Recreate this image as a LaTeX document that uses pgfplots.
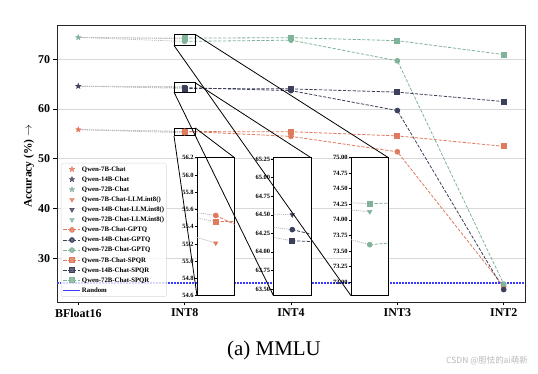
\documentclass[border=0pt]{standalone}
\usepackage{fontspec}
\setmainfont{Liberation Serif}
\newfontfamily\cjk{Noto Sans CJK SC}
\usepackage{pgfplots}
\pgfplotsset{compat=1.18}
\definecolor{corange}{HTML}{E07A5F}
\definecolor{cnavy}{HTML}{3D405B}
\definecolor{cgreen}{HTML}{81B29A}
\definecolor{cblue}{RGB}{60,60,255}
\pgfdeclareplotmark{fstar}{%
 \pgfpathmoveto{\pgfpointpolar{90}{\pgfplotmarksize}}%
 \pgfpathlineto{\pgfpointpolar{126}{0.42\pgfplotmarksize}}%
 \pgfpathlineto{\pgfpointpolar{162}{\pgfplotmarksize}}%
 \pgfpathlineto{\pgfpointpolar{198}{0.42\pgfplotmarksize}}%
 \pgfpathlineto{\pgfpointpolar{234}{\pgfplotmarksize}}%
 \pgfpathlineto{\pgfpointpolar{270}{0.42\pgfplotmarksize}}%
 \pgfpathlineto{\pgfpointpolar{306}{\pgfplotmarksize}}%
 \pgfpathlineto{\pgfpointpolar{342}{0.42\pgfplotmarksize}}%
 \pgfpathlineto{\pgfpointpolar{18}{\pgfplotmarksize}}%
 \pgfpathlineto{\pgfpointpolar{54}{0.42\pgfplotmarksize}}%
 \pgfpathclose\pgfusepathqfillstroke}
\pgfplotsset{
 gl/.style={gray!55, line width=0.7bp, dash pattern=on 1.2bp off 0.9bp, forget plot},
 ser/.style={line width=0.8bp, dash pattern=on 3.2bp off 1.6bp},
 stm/.style={only marks, mark=fstar, mark size=2.8bp},
 trm/.style={only marks, mark=triangle*, mark size=2.6bp, mark options={rotate=180}},
 cim/.style={ser, mark=*, mark size=2.4bp, mark options={solid}},
 sqm/.style={ser, mark=square*, mark size=2.5bp, mark options={solid}},
}
\newcommand{\grayl}{%
 \addplot[gl] coordinates {(0,55.86)(1,55.21)};
 \addplot[gl] coordinates {(0,55.86)(1,55.53)};
 \addplot[gl] coordinates {(0,55.86)(1,55.46)};
 \addplot[gl] coordinates {(0,64.6)(1,64.50)};
 \addplot[gl] coordinates {(0,64.6)(1,64.30)};
 \addplot[gl] coordinates {(0,64.6)(1,64.15)};
 \addplot[gl] coordinates {(0,74.4)(1,74.13)};
 \addplot[gl] coordinates {(0,74.4)(1,73.60)};
 \addplot[gl] coordinates {(0,74.4)(1,74.26)};
}
\newcommand{\datapl}{%
 \addplot[stm, corange] coordinates {(0,55.86)};
 \addplot[stm, cnavy] coordinates {(0,64.6)};
 \addplot[stm, cgreen] coordinates {(0,74.4)};
 \addplot[trm, corange] coordinates {(1,55.21)};
 \addplot[trm, cnavy] coordinates {(1,64.50)};
 \addplot[trm, cgreen] coordinates {(1,74.13)};
 \addplot[cim, corange] coordinates {(1,55.53)(2,54.5)(3,51.4)(4,24.3)};
 \addplot[cim, cnavy] coordinates {(1,64.30)(2,63.7)(3,59.7)(4,23.7)};
 \addplot[cim, cgreen] coordinates {(1,73.60)(2,73.85)(3,69.7)(4,24.8)};
 \addplot[sqm, corange] coordinates {(1,55.46)(2,55.44)(3,54.6)(4,52.5)};
 \addplot[sqm, cnavy] coordinates {(1,64.15)(2,64.05)(3,63.4)(4,61.5)};
 \addplot[sqm, cgreen] coordinates {(1,74.26)(2,74.35)(3,73.75)(4,70.95)};
}
\pgfplotsset{
 inset/.style={anchor=south west, scale only axis, width=37.5bp, height=138bp,
  xmin=0.9, xmax=1.1, xtick=\empty, axis background/.style={fill=white},
  axis line style={line width=0.9bp, black},
  ytick pos=left, tick align=outside, major tick length=2.2bp,
  tick style={black, line width=0.5bp},
  yticklabel style={font=\fontsize{6.5}{7}\selectfont\bfseries, inner sep=1bp},
  /pgf/number format/assume math mode=true,
  /pgf/number format/fixed, /pgf/number format/fixed zerofill},
}
\begin{document}
\begin{tikzpicture}
\path[use as bounding box] (0,0) rectangle (538bp,374bp);
\begin{axis}[name=main, at={(57bp,72bp)}, anchor=south west, scale only axis,
 width=468bp, height=277bp, xmin=-0.2, xmax=4.2, ymin=21.2, ymax=76.9,
 xtick={0,1,2,3,4}, xticklabels={BFloat16,INT8,INT4,INT3,INT2},
 ytick={30,40,50,60,70},
 ymajorgrids, grid style={gray!30, line width=0.8bp},
 axis line style={line width=0.8bp, black!85},
 xtick pos=lower, ytick pos=left, tick align=outside, major tick length=3.5bp,
 tick style={black, line width=0.7bp},
 tick label style={font=\fontsize{12}{14}\selectfont\bfseries},
 /pgf/number format/assume math mode=true,
 ylabel={Accuracy (\%) $\rightarrow$},
 ylabel style={font=\fontsize{11.5}{13}\selectfont\bfseries, at={(axis description cs:-0.06,0.49)}, anchor=center},
 legend style={at={(axis description cs:0.0085,0.502)}, anchor=north west,
  font=\fontsize{6.8}{8}\selectfont\bfseries, draw=gray!30, rounded corners=2bp,
  fill=white, fill opacity=0.8, text opacity=1, inner xsep=1.5bp, inner ysep=2bp,
  row sep=1.8bp, nodes={inner sep=0.7bp, text height=5.3bp, text depth=1.6bp}},
 legend cell align=left,
]
\grayl
\datapl
\addplot[draw=cblue, color=cblue, line width=1.6bp, dash pattern=on 2.2bp off 0.8bp] coordinates {(-0.2,25)(4.2,25)};
\legend{Qwen-7B-Chat,Qwen-14B-Chat,Qwen-72B-Chat,Qwen-7B-Chat-LLM.int8(),Qwen-14B-Chat-LLM.int8(),Qwen-72B-Chat-LLM.int8(),Qwen-7B-Chat-GPTQ,Qwen-14B-Chat-GPTQ,Qwen-72B-Chat-GPTQ,Qwen-7B-Chat-SPQR,Qwen-14B-Chat-SPQR,Qwen-72B-Chat-SPQR,Random}
\draw[black, line width=0.8bp] (axis cs:0.9,54.6) rectangle (axis cs:1.1,56.2);
\draw[black, line width=0.8bp] (axis cs:0.9,63.41) rectangle (axis cs:1.1,65.27);
\draw[black, line width=0.8bp] (axis cs:0.9,72.78) rectangle (axis cs:1.1,75.0);
\coordinate (a1) at (axis cs:1.1,56.2);
\coordinate (b1) at (axis cs:0.9,54.6);
\coordinate (a2) at (axis cs:1.1,65.27);
\coordinate (b2) at (axis cs:0.9,63.41);
\coordinate (a3) at (axis cs:1.1,75.0);
\coordinate (b3) at (axis cs:0.9,72.78);
\end{axis}
\begin{axis}[inset, name=ins1, at={(197bp,78.3bp)}, ymin=54.6, ymax=56.2,
 ytick={54.6,54.8,55.0,55.2,55.4,55.6,55.8,56.0,56.2}, /pgf/number format/precision=1]
\grayl
\datapl
\end{axis}
\begin{axis}[inset, name=ins2, at={(273.5bp,78.3bp)}, ymin=63.41, ymax=65.27,
 ytick={63.5,63.75,64,64.25,64.5,64.75,65,65.25}, /pgf/number format/precision=2]
\grayl
\datapl
\end{axis}
\begin{axis}[inset, name=ins3, at={(351bp,78.3bp)}, ymin=72.78, ymax=75.0,
 ytick={73,73.25,73.5,73.75,74,74.25,74.5,74.75,75}, /pgf/number format/precision=2]
\grayl
\datapl
\end{axis}
\draw[black, line width=0.8bp] (a1) -- (ins1.north east);
\draw[black, line width=0.8bp] (b1) -- (ins1.south west);
\draw[black, line width=0.8bp] (a2) -- (ins2.north east);
\draw[black, line width=0.8bp] (b2) -- (ins2.south west);
\draw[black, line width=0.8bp] (a3) -- (ins3.north east);
\draw[black, line width=0.8bp] (b3) -- (ins3.south west);
\node[font=\fontsize{21}{24}\selectfont] at (274bp,23.3bp) {(a) MMLU};
\node[font=\cjk\fontsize{8.5}{10}\selectfont, text=gray!55] at (487bp,13bp) {CSDN @胆怯的ai萌新};
\end{tikzpicture}
\end{document}
